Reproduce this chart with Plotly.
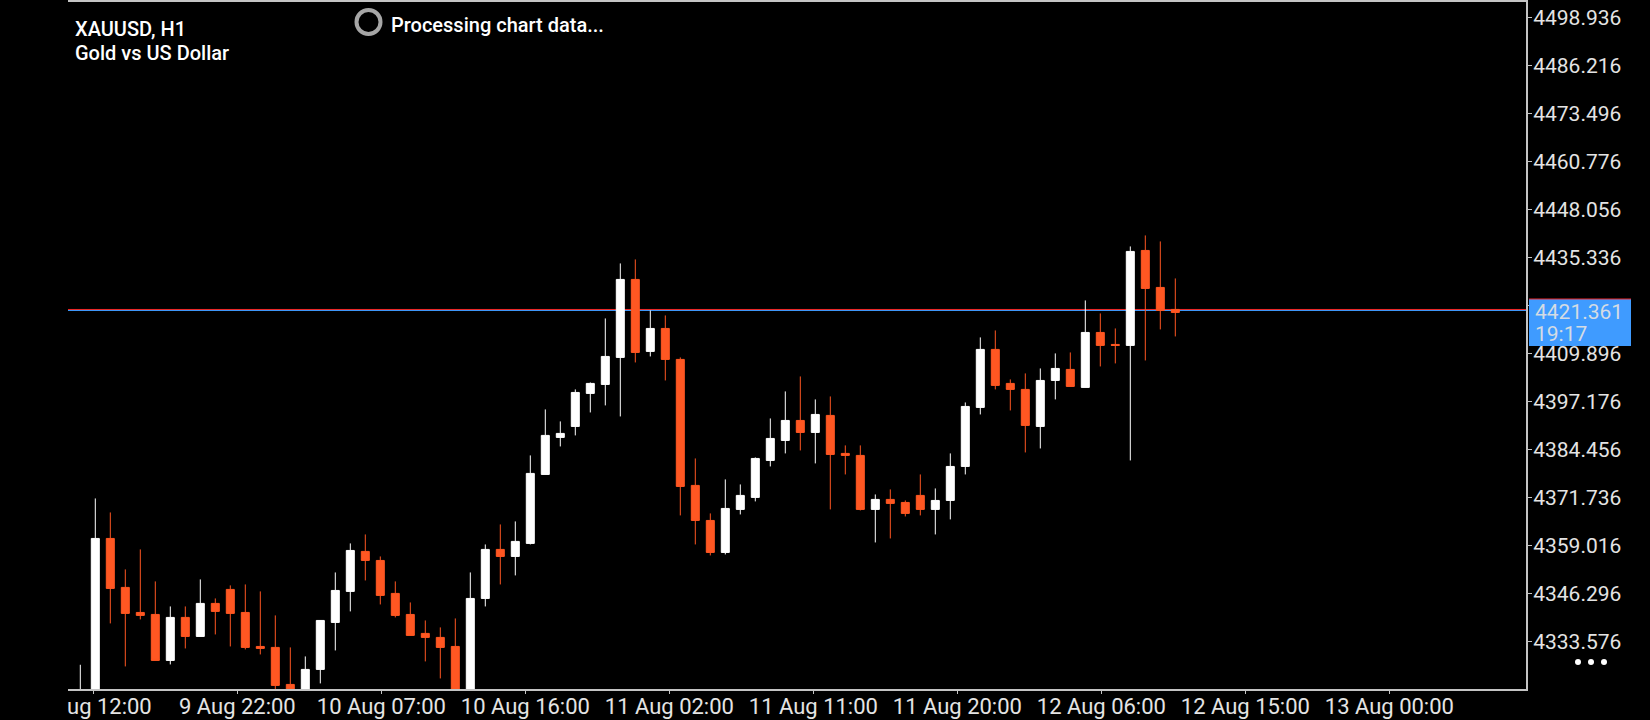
"""XAUUSD H1 candlestick chart, dark terminal style."""

import plotly.graph_objects as go

opens = [
    4318.02, 4319.80, 4360.95, 4347.97, 4341.34, 4340.81, 4328.62, 4340.02, 4334.98, 4343.73,
    4347.44, 4341.34, 4332.33, 4332.07, 4322.26, 4319.35, 4326.24, 4338.69, 4346.91, 4357.51,
    4355.12, 4346.38, 4340.81, 4335.78, 4334.72, 4332.33, 4319.79, 4345.05, 4358.04, 4356.18,
    4359.63, 4377.91, 4387.72, 4390.63, 4399.38, 4401.76, 4408.92, 4429.59, 4410.51, 4416.60,
    4408.39, 4375.00, 4365.72, 4357.24, 4368.64, 4371.82, 4381.62, 4386.92, 4392.22, 4389.04,
    4393.55, 4383.48, 4382.95, 4368.64, 4371.29, 4370.49, 4372.35, 4368.64, 4371.02, 4380.03,
    4395.67, 4411.04, 4402.03, 4400.44, 4390.63, 4402.82, 4405.74, 4400.97, 4415.54, 4412.36,
    4412.10, 4437.27, 4427.47, 4421.64,
]
highs = [
    4327.47, 4371.55, 4367.84, 4352.74, 4358.04, 4349.56, 4342.93, 4342.93, 4350.09, 4345.05,
    4348.50, 4348.76, 4346.91, 4340.55, 4332.07, 4329.68, 4339.22, 4351.94, 4359.63, 4362.01,
    4356.18, 4349.56, 4343.99, 4339.22, 4337.37, 4339.75, 4351.94, 4359.36, 4364.66, 4365.46,
    4382.95, 4395.14, 4391.96, 4400.44, 4402.29, 4419.25, 4433.83, 4434.89, 4421.37, 4420.05,
    4408.92, 4382.15, 4367.58, 4376.59, 4375.26, 4382.42, 4392.75, 4399.91, 4403.88, 4397.79,
    4398.58, 4385.60, 4385.60, 4372.61, 4373.94, 4371.02, 4377.91, 4374.20, 4383.48, 4396.99,
    4414.22, 4416.07, 4403.09, 4404.68, 4406.00, 4409.98, 4410.24, 4424.02, 4420.58, 4416.60,
    4438.33, 4441.25, 4439.66, 4429.85,
]
lows = [
    4317.14, 4318.50, 4338.43, 4327.03, 4339.49, 4328.62, 4327.56, 4331.80, 4334.98, 4335.51,
    4332.33, 4331.54, 4330.21, 4321.03, 4318.47, 4318.02, 4322.53, 4331.27, 4341.61, 4349.82,
    4343.46, 4340.02, 4335.25, 4328.36, 4323.85, 4318.91, 4318.91, 4342.93, 4348.76, 4351.15,
    4359.36, 4377.91, 4385.33, 4388.25, 4394.34, 4396.20, 4393.28, 4407.59, 4409.18, 4402.82,
    4367.05, 4359.36, 4356.45, 4356.71, 4367.31, 4370.76, 4380.03, 4383.48, 4384.27, 4380.83,
    4368.64, 4377.91, 4368.37, 4359.89, 4360.95, 4366.78, 4367.05, 4362.01, 4365.99, 4377.91,
    4393.81, 4400.44, 4394.87, 4383.74, 4384.80, 4397.79, 4401.23, 4400.97, 4406.53, 4407.33,
    4381.62, 4408.12, 4416.34, 4414.48,
]
closes = [
    4319.79, 4360.95, 4347.70, 4341.08, 4340.55, 4328.62, 4340.02, 4334.98, 4343.73, 4341.61,
    4341.08, 4332.07, 4331.80, 4322.00, 4319.35, 4326.24, 4339.22, 4347.17, 4357.77, 4355.12,
    4345.85, 4340.55, 4335.25, 4334.72, 4332.07, 4319.79, 4345.05, 4358.04, 4356.18, 4360.16,
    4378.18, 4388.25, 4388.78, 4399.64, 4402.03, 4409.18, 4429.59, 4410.24, 4416.60, 4408.39,
    4374.73, 4365.72, 4357.24, 4368.90, 4372.35, 4382.15, 4387.45, 4392.22, 4389.04, 4393.81,
    4383.21, 4382.95, 4368.64, 4371.29, 4370.23, 4367.58, 4368.64, 4371.02, 4380.03, 4395.93,
    4411.04, 4401.50, 4400.44, 4390.90, 4402.82, 4406.00, 4401.23, 4415.54, 4412.10, 4412.10,
    4437.01, 4427.20, 4421.37, 4420.84,
]

price_ticks = [
    4498.936, 4486.216, 4473.496, 4460.776, 4448.056, 4435.336, 4422.616,
    4409.896, 4397.176, 4384.456, 4371.736, 4359.016, 4346.296, 4333.576,
]
time_ticks = [0.87, 10.47, 20.07, 29.67, 39.27, 48.87, 58.47, 68.07, 77.67, 87.27]
time_labels = [
    "", "9 Aug 22:00", "10 Aug 07:00", "10 Aug 16:00", "11 Aug 02:00",
    "11 Aug 11:00", "11 Aug 20:00", "12 Aug 06:00", "12 Aug 15:00", "13 Aug 00:00",
]
bid_price = 4421.361
ask_price = 4421.626

UP_COLOR = "#ffffff"
DOWN_COLOR = "#ff5722"
AXIS_COLOR = "#c4c4c4"
TICK_TEXT = "#e4e4e4"
BID_COLOR = "#3f9bff"
ASK_COLOR = "#f02a2a"
FONT = "Roboto"

WIDTH, HEIGHT = 1650, 720
LEFT, RIGHT, TOP, BOTTOM = 68, 1526, 2, 689


def px_x(x):
    return (x - LEFT) / (RIGHT - LEFT)


def px_y(y):
    return (BOTTOM - y) / (BOTTOM - TOP)


fig = go.Figure(
    go.Candlestick(
        x=list(range(len(opens))),
        open=opens,
        high=highs,
        low=lows,
        close=closes,
        whiskerwidth=0,
        hoverinfo="skip",
        increasing={"line": {"color": UP_COLOR, "width": 1}, "fillcolor": UP_COLOR},
        decreasing={"line": {"color": DOWN_COLOR, "width": 1}, "fillcolor": DOWN_COLOR},
    )
)

shapes = [
    # bid/ask lines sit behind the candles
    {"type": "line", "xref": "paper", "x0": 0, "x1": 1, "yref": "y", "y0": bid_price, "y1": bid_price,
     "line": {"color": BID_COLOR, "width": 1}, "layer": "below"},
    {"type": "line", "xref": "paper", "x0": 0, "x1": 1, "yref": "y", "y0": ask_price, "y1": ask_price,
     "line": {"color": ASK_COLOR, "width": 1}, "layer": "below"},
    # price box on the right scale
    {"type": "rect", "xref": "paper", "yref": "paper", "x0": px_x(1529), "x1": px_x(1631),
     "y0": px_y(346), "y1": px_y(299), "fillcolor": BID_COLOR, "line": {"width": 0}},
    {"type": "line", "xref": "paper", "yref": "paper", "x0": px_x(1529), "x1": px_x(1631),
     "y0": px_y(299), "y1": px_y(299), "line": {"color": ASK_COLOR, "width": 1}},
    # spinner ring
    {"type": "circle", "xref": "paper", "yref": "paper", "x0": px_x(356.5), "x1": px_x(380.5),
     "y0": px_y(34), "y1": px_y(10), "line": {"color": "#a6a6a6", "width": 4}},
]
# three dots bottom right
for dot_x in (1578, 1591, 1604):
    shapes.append(
        {"type": "circle", "xref": "paper", "yref": "paper", "x0": px_x(dot_x - 3), "x1": px_x(dot_x + 3),
         "y0": px_y(665), "y1": px_y(659), "fillcolor": "#ffffff", "line": {"width": 0}}
    )


def note(text, x, y, size, color, weight=400):
    return {
        "text": text, "xref": "paper", "yref": "paper", "x": px_x(x), "y": px_y(y),
        "xanchor": "left", "yanchor": "middle", "showarrow": False,
        "font": {"family": FONT, "size": size, "color": color, "weight": weight},
    }


annotations = [
    note("XAUUSD, H1", 73, 29, 20, "#ffffff", 500),
    note("Gold vs US Dollar", 73, 53, 20, "#ffffff", 500),
    note("Processing chart data...", 389, 25, 20, "#ffffff", 500),
    note("4421.361", 1533, 312, 21, "#d4dbe4"),
    note("19:17", 1533, 334, 21, "#d4dbe4"),
    note("ug 12:00", 65, 706, 22, TICK_TEXT),
]

fig.update_layout(
    width=WIDTH,
    height=HEIGHT,
    margin={"l": LEFT, "r": WIDTH - RIGHT, "t": TOP, "b": HEIGHT - BOTTOM},
    paper_bgcolor="#000000",
    plot_bgcolor="#000000",
    showlegend=False,
    boxgap=0.2,
    boxgroupgap=0.333,
    shapes=shapes,
    annotations=annotations,
    font={"family": FONT, "color": TICK_TEXT},
    xaxis={
        "range": [-0.82, 96.38],
        "automargin": False,
        "rangeslider": {"visible": False},
        "tickmode": "array",
        "tickvals": time_ticks,
        "ticktext": time_labels,
        "tickangle": 0,
        "tickfont": {"family": FONT, "size": 22, "color": TICK_TEXT},
        "ticklabelstandoff": -6,
        "ticks": "outside",
        "ticklen": 3,
        "tickwidth": 1,
        "tickcolor": AXIS_COLOR,
        "showgrid": False,
        "zeroline": False,
        "showline": True,
        "linecolor": AXIS_COLOR,
        "linewidth": 2,
        "mirror": True,
    },
    yaxis={
        "side": "right",
        "range": [4321.05, 4503.11],
        "automargin": False,
        "tickmode": "array",
        "tickvals": price_ticks,
        "ticktext": [f"{p:.3f}" if p != 4422.616 else "" for p in price_ticks],
        "tickfont": {"family": FONT, "size": 21, "color": TICK_TEXT},
        "ticklabelstandoff": -3,
        "ticks": "outside",
        "ticklen": 4,
        "tickwidth": 1,
        "tickcolor": AXIS_COLOR,
        "showgrid": False,
        "zeroline": False,
        "showline": True,
        "linecolor": AXIS_COLOR,
        "linewidth": 2,
    },
)

fig.write_html("out.html", post_script="document.body.style.margin='0';", config={"displayModeBar": False})
